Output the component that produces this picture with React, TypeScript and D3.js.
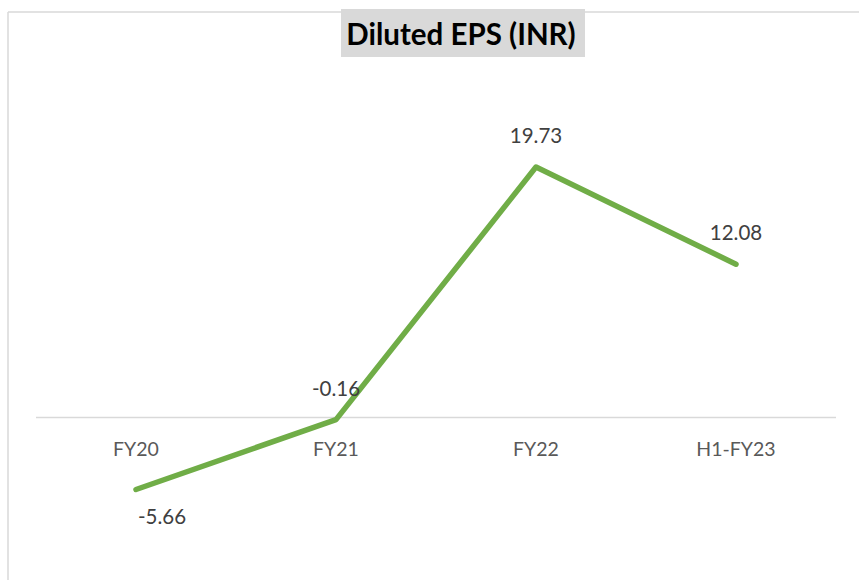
import React from "react";
import * as d3 from "d3";

const categories = ["FY20", "FY21", "FY22", "H1-FY23"];
const epsValues = [-5.66, -0.16, 19.73, 12.08];
const labelTexts = ["-5.66", "-0.16", "19.73", "12.08"];
const labelBelow = [true, false, false, false];
const title = "Diluted EPS (INR)";

const W = 859;
const H = 580;

export default function App() {
  const x = d3.scaleBand<string>().domain(categories).range([36, 836]);
  const y = d3.scaleLinear().domain([-12, 28]).range([570, 62]);
  const cx = (c: string) => (x(c) ?? 0) + x.bandwidth() / 2;
  const line = d3
    .line<number>()
    .x((_, i) => cx(categories[i]))
    .y((d) => y(d));
  const font = "Lato, 'Open Sans', sans-serif";
  return (
    <svg
      width={W}
      height={H}
      style={{ position: "absolute", left: 0, top: 0 }}
      fontFamily={font}
    >
      <rect x={0} y={0} width={W} height={H} fill="#ffffff" />
      {/* frame */}
      <line x1={8} y1={12} x2={W + 2} y2={12} stroke="#d9d9d9" strokeWidth={1.5} />
      <line x1={8} y1={12} x2={8} y2={H + 2} stroke="#d9d9d9" strokeWidth={1.5} />
      {/* title */}
      <rect x={341} y={9} width={244} height={48} fill="#d9d9d9" />
      <text x={461} y={45} textAnchor="middle" fontSize={29.5} fontWeight={700} fill="#000000">
        {title}
      </text>
      {/* zero line */}
      <line x1={36} x2={836} y1={y(0)} y2={y(0)} stroke="#d9d9d9" strokeWidth={1.5} />
      {/* category labels */}
      {categories.map((c) => (
        <text key={c} x={cx(c)} y={456} textAnchor="middle" fontSize={19.5} fill="#595959">
          {c}
        </text>
      ))}
      {/* line */}
      <path
        d={line(epsValues) ?? ""}
        fill="none"
        stroke="#70ad47"
        strokeWidth={5.5}
        strokeLinejoin="round"
        strokeLinecap="round"
      />
      {/* data labels */}
      {epsValues.map((v, i) => (
        <text
          key={i}
          x={cx(categories[i]) + (labelBelow[i] ? 26 : 0)}
          y={y(v) + (labelBelow[i] ? 35 : -24)}
          textAnchor="middle"
          fontSize={20.5}
          fill="#404040"
        >
          {labelTexts[i]}
        </text>
      ))}
    </svg>
  );
}
